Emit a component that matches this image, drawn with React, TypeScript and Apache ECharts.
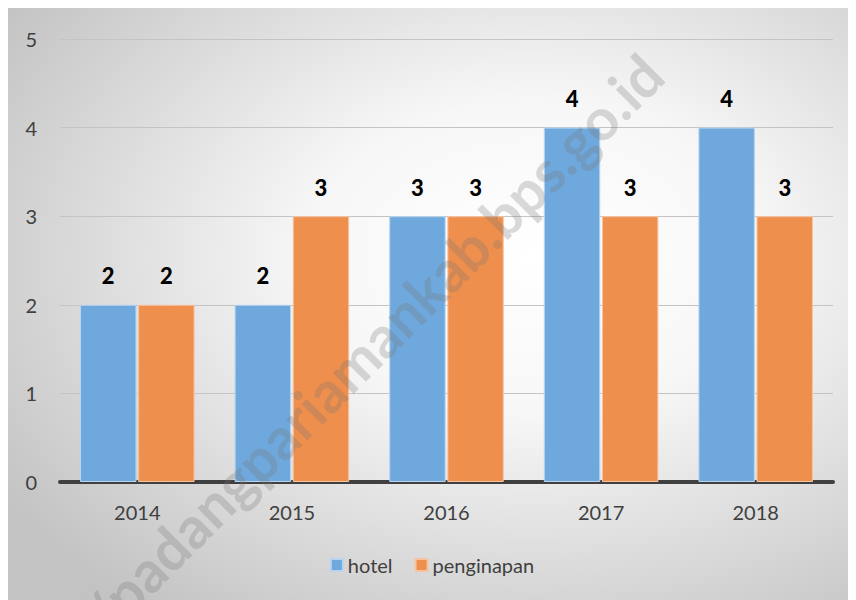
import React, { useEffect, useRef } from "react";
import * as echarts from "echarts";

const categories = ["2014", "2015", "2016", "2017", "2018"];
const hotel = [2, 2, 3, 4, 4];
const penginapan = [2, 3, 3, 3, 3];
const seriesNames = ["hotel", "penginapan"];

const FONT = "Lato, 'Noto Sans', sans-serif";

export default function App() {
  const ref = useRef<HTMLDivElement>(null);
  useEffect(() => {
    if (!ref.current) return;
    const chart = echarts.init(ref.current, undefined, { renderer: "svg" });
    const label = {
      show: true,
      position: "top" as const,
      distance: 18,
      color: "#000000",
      fontWeight: 900 as const,
      fontSize: 22,
      fontFamily: FONT,
    };
    chart.setOption({
      animation: false,
      backgroundColor: {
        type: "radial",
        x: 0.62,
        y: 0.42,
        r: 0.75,
        colorStops: [
          { offset: 0, color: "#ffffff" },
          { offset: 0.35, color: "#f7f7f7" },
          { offset: 1, color: "#c3c3c3" },
        ],
      },
      textStyle: { fontFamily: FONT },
      grid: { left: 52, right: 23, top: 31, bottom: 118 },
      legend: {
        data: seriesNames,
        bottom: 20,
        left: "center",
        itemWidth: 12,
        itemHeight: 12,
        itemGap: 22,
        icon: "rect",
        textStyle: { fontSize: 20, color: "#404040", fontFamily: FONT },
      },
      xAxis: {
        type: "category",
        data: categories,
        axisLine: { show: true, lineStyle: { color: "#404040", width: 4 } },
        axisTick: { show: false },
        axisLabel: { fontSize: 20, color: "#404040", margin: 20, fontFamily: FONT },
      },
      yAxis: {
        type: "value",
        min: 0,
        max: 5,
        interval: 1,
        axisLine: { show: false },
        axisTick: { show: false },
        axisLabel: { fontSize: 20, color: "#404040", margin: 23, fontFamily: FONT },
        splitLine: { lineStyle: { color: "#c4c4c4", width: 1 } },
      },
      series: [
        {
          name: seriesNames[0],
          type: "bar",
          data: hotel,
          barWidth: "36.5%",
          barGap: "3%",
          itemStyle: { color: "#6fa8dc", borderColor: "#b8d4ee", borderWidth: 1 },
          label,
        },
        {
          name: seriesNames[1],
          type: "bar",
          data: penginapan,
          barWidth: "36.5%",
          barGap: "3%",
          itemStyle: { color: "#ef8f4d", borderColor: "#f6c4a0", borderWidth: 1 },
          label,
        },
      ],
      graphic: [
        {
          type: "text",
          z: 100,
          x: 644,
          y: 56,
          rotation: Math.PI / 4,
          style: {
            text: "//padangpariamankab.bps.go.id",
            align: "right",
            verticalAlign: "middle",
            fontSize: 58,
            fontWeight: "bold",
            fontFamily: FONT,
            fill: "rgba(120,120,120,0.27)",
          },
        },
      ],
    });
    return () => chart.dispose();
  }, []);
  return <div ref={ref} style={{ width: 848, height: 592 }} />;
}
